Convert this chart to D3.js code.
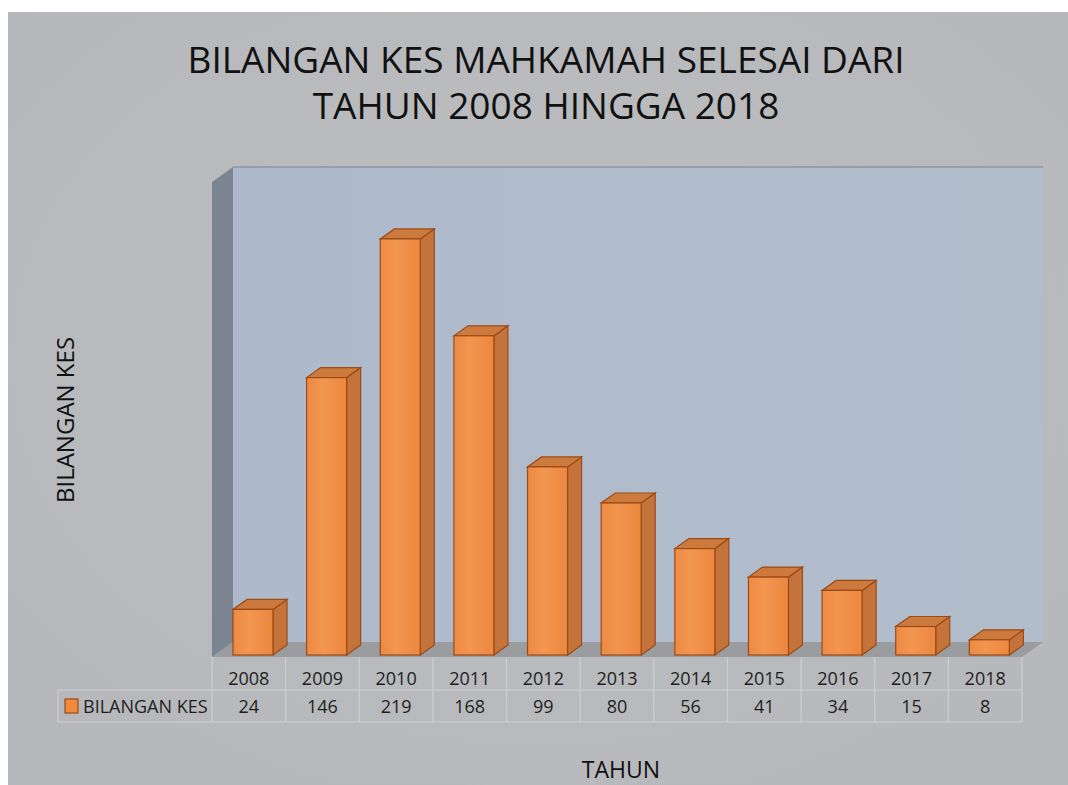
<!DOCTYPE html>
<html>
<head>
<meta charset="utf-8">
<script src="https://cdn.jsdelivr.net/npm/d3@7"></script>
<style>
  html, body { margin: 0; padding: 0; background: #fff; }
  svg { display: block; }
</style>
</head>
<body>
<div id="chart"></div>
<script>
// Data
const years = ["2008", "2009", "2010", "2011", "2012", "2013", "2014", "2015", "2016", "2017", "2018"];
const cases = [24, 146, 219, 168, 99, 80, 56, 41, 34, 15, 8];
const seriesName = "BILANGAN KES";
const titleLines = ["BILANGAN KES MAHKAMAH SELESAI DARI", "TAHUN 2008 HINGGA 2018"];
const yTitle = "BILANGAN KES";
const xTitle = "TAHUN";

const width = 1068, height = 785;
const font = "'Open Sans', 'DejaVu Sans', sans-serif";

const svg = d3.select("#chart").append("svg")
    .attr("width", width)
    .attr("height", height);

const defs = svg.append("defs");
const bgGrad = defs.append("radialGradient").attr("id", "bg")
    .attr("cx", "50%").attr("cy", "45%").attr("r", "75%");
bgGrad.append("stop").attr("offset", "0%").attr("stop-color", "#bcbec0");
bgGrad.append("stop").attr("offset", "100%").attr("stop-color", "#b5b7ba");

const wallGrad = defs.append("linearGradient").attr("id", "wall")
    .attr("x1", 0).attr("y1", 0).attr("x2", 1).attr("y2", 0);
wallGrad.append("stop").attr("offset", "0%").attr("stop-color", "#aebacb");
wallGrad.append("stop").attr("offset", "100%").attr("stop-color", "#b2bdcc");

const frontGrad = defs.append("linearGradient").attr("id", "front")
    .attr("x1", 0).attr("y1", 0).attr("x2", 1).attr("y2", 0);
frontGrad.append("stop").attr("offset", "0%").attr("stop-color", "#ee8a42");
frontGrad.append("stop").attr("offset", "40%").attr("stop-color", "#f29650");
frontGrad.append("stop").attr("offset", "100%").attr("stop-color", "#ec873e");

// Background panel
svg.append("rect")
    .attr("x", 8).attr("y", 12)
    .attr("width", width - 8).attr("height", height - 12)
    .attr("fill", "url(#bg)");

// Plot geometry
const plotLeft = 212, plotRight = 1022, floorY = 657;
const wallDx = 21, wallDy = -15;
const barDx = 14, barDy = -10;

const x = d3.scaleBand().domain(years).range([plotLeft, plotRight]).padding(0);
const y = d3.scaleLinear().domain([0, 250]).range([655, 180]);

const wallTop = y(250) + wallDy + 2;

// Side wall (left)
svg.append("path")
    .attr("d", d3.line()([
        [plotLeft, wallTop - wallDy], [plotLeft + wallDx, wallTop],
        [plotLeft + wallDx, floorY + wallDy], [plotLeft, floorY]
    ]) + "Z")
    .attr("fill", "#7b8591");

// Back wall
svg.append("rect")
    .attr("x", plotLeft + wallDx).attr("y", wallTop)
    .attr("width", plotRight - plotLeft)
    .attr("height", floorY + wallDy - wallTop)
    .attr("fill", "url(#wall)");
svg.append("line")
    .attr("x1", plotLeft + wallDx).attr("x2", plotRight + wallDx)
    .attr("y1", wallTop).attr("y2", wallTop)
    .attr("stroke", "#8e969e").attr("stroke-width", 1.5);

// Floor
svg.append("path")
    .attr("d", d3.line()([
        [plotLeft, floorY], [plotRight, floorY],
        [plotRight + wallDx, floorY + wallDy], [plotLeft + wallDx, floorY + wallDy]
    ]) + "Z")
    .attr("fill", "#9a9ca0");

// Bars
const barW = 40, barShift = 21;
const bars = svg.append("g").selectAll("g")
    .data(years.map((yr, i) => ({ yr, v: cases[i] })))
    .join("g");

const stroke = "#9c4a16";
bars.append("path") // side
    .attr("d", d => {
        const x0 = x(d.yr) + barShift + barW, yt = y(d.v), yb = y(0);
        return d3.line()([[x0, yt], [x0 + barDx, yt + barDy], [x0 + barDx, yb + barDy], [x0, yb]]) + "Z";
    })
    .attr("fill", "#c4733a").attr("stroke", stroke).attr("stroke-width", 1.2);
bars.append("path") // top
    .attr("d", d => {
        const x0 = x(d.yr) + barShift, yt = y(d.v);
        return d3.line()([[x0, yt], [x0 + barW, yt], [x0 + barW + barDx, yt + barDy], [x0 + barDx, yt + barDy]]) + "Z";
    })
    .attr("fill", "#cc7a3e").attr("stroke", stroke).attr("stroke-width", 1.2);
bars.append("rect") // front
    .attr("x", d => x(d.yr) + barShift)
    .attr("y", d => y(d.v))
    .attr("width", barW)
    .attr("height", d => y(0) - y(d.v))
    .attr("fill", "url(#front)").attr("stroke", stroke).attr("stroke-width", 1.2);

// Data table
const row1 = floorY, row2 = 690, row3 = 722, legendLeft = 58;
const grid = svg.append("g").attr("stroke", "#cdd0d2").attr("stroke-width", 1.2).attr("fill", "none");
grid.append("line").attr("x1", legendLeft).attr("x2", plotRight).attr("y1", row2).attr("y2", row2);
grid.append("line").attr("x1", legendLeft).attr("x2", plotRight).attr("y1", row3).attr("y2", row3);
grid.append("line").attr("x1", legendLeft).attr("x2", legendLeft).attr("y1", row2).attr("y2", row3);
grid.selectAll(".v").data(years.concat(["end"]))
    .join("line")
    .attr("x1", d => d === "end" ? plotRight : x(d))
    .attr("x2", d => d === "end" ? plotRight : x(d))
    .attr("y1", row1).attr("y2", row3);

const tableText = svg.append("g")
    .attr("font-family", font).attr("font-size", 18).attr("fill", "#1e1e1e")
    .attr("text-anchor", "middle");
tableText.selectAll(".yr").data(years).join("text")
    .attr("x", d => x(d) + x.bandwidth() / 2)
    .attr("y", 685)
    .text(d => d);
tableText.selectAll(".val").data(cases).join("text")
    .attr("x", (d, i) => x(years[i]) + x.bandwidth() / 2)
    .attr("y", 713)
    .text(d => d);

svg.append("rect")
    .attr("x", 65).attr("y", 699).attr("width", 13).attr("height", 14)
    .attr("fill", "#ee8a40").attr("stroke", stroke).attr("stroke-width", 1.2);
svg.append("text")
    .attr("x", 83).attr("y", 713)
    .attr("font-family", font).attr("font-size", 18).attr("fill", "#1e1e1e")
    .text(seriesName);

// Titles
svg.append("g").selectAll("text").data(titleLines).join("text")
    .attr("x", 546)
    .attr("y", (d, i) => 73 + i * 46)
    .attr("text-anchor", "middle")
    .attr("font-family", font).attr("font-size", 37).attr("fill", "#111")
    .text(d => d);

svg.append("text")
    .attr("transform", "translate(74,420) rotate(-90)")
    .attr("text-anchor", "middle")
    .attr("font-family", font).attr("font-size", 24).attr("fill", "#111")
    .text(yTitle);

svg.append("text")
    .attr("x", 621).attr("y", 778)
    .attr("text-anchor", "middle")
    .attr("font-family", font).attr("font-size", 23).attr("fill", "#111")
    .text(xTitle);
</script>
</body>
</html>
